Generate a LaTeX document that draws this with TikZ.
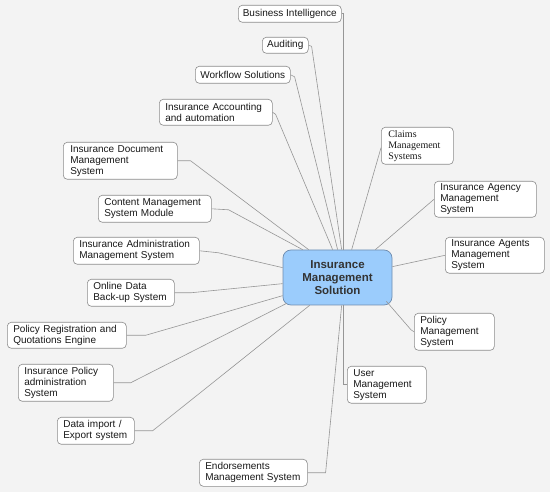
\documentclass[tikz,border=0pt]{standalone}
\usepackage{fontspec}
\setmainfont{Liberation Sans}
\newfontfamily\serifbox{Liberation Serif}
\usetikzlibrary{calc}
\definecolor{bg}{RGB}{243,243,243}
\definecolor{boxline}{RGB}{140,140,140}
\definecolor{conn}{RGB}{150,150,150}
\definecolor{hubfill}{RGB}{155,204,252}
\definecolor{hubline}{RGB}{110,140,175}
\definecolor{hubtext}{RGB}{51,51,51}
\definecolor{boxtext}{RGB}{25,25,25}
\tikzset{
  box/.style={draw=boxline, fill=white, rounded corners=4pt, line width=0.6pt,
    font=\fontsize{10}{11}\selectfont, text=boxtext, inner xsep=6pt, inner ysep=1pt,
    align=left, anchor=north west},
  onebox/.style={draw=boxline, fill=white, rounded corners=4pt, line width=0.6pt,
    font=\fontsize{10}{11}\selectfont, text=boxtext, inner xsep=2pt, inner ysep=1pt,
    align=center, anchor=north west},
  hub/.style={draw=hubline, fill=hubfill, rounded corners=8pt, line width=0.7pt,
    font=\fontsize{11.5}{13}\selectfont\bfseries, text=hubtext, align=center},
  link/.style={draw=conn, line width=0.6pt}
}
\begin{document}
\begin{tikzpicture}[x=1pt,y=-1pt]
\useasboundingbox[fill=bg] (0,0) rectangle (550,492);
% hub
\node[hub, minimum width=109pt, minimum height=55pt] (c) at (337.5,277.5) {Insurance\\Management\\Solution};
% boxes
\node[onebox, minimum width=103pt, minimum height=17pt] (bi) at (238,5) {Business Intelligence};
\node[onebox, minimum width=46pt, minimum height=16pt] (aud) at (262,37) {Auditing};
\node[onebox, minimum width=95pt, minimum height=17pt] (wf) at (195,66) {Workflow Solutions};
\node[box, minimum width=113pt, minimum height=26pt, text width=101pt] (acc) at (159,99) {Insurance Accounting\\and automation};
\node[box, minimum width=72pt, minimum height=37pt, text width=58pt, inner xsep=7pt, font=\serifbox\fontsize{10}{11}\selectfont] (claims) at (381,127) {Claims\\Management\\Systems};
\node[box, minimum width=114pt, minimum height=37pt, text width=100pt, inner xsep=7pt] (doc) at (63,142) {Insurance Document\\Management\\System};
\node[box, minimum width=102pt, minimum height=36pt, text width=90pt] (agency) at (434,181) {Insurance Agency\\Management\\System};
\node[box, minimum width=113pt, minimum height=27pt, text width=101pt] (cms) at (98,195) {Content Management\\System Module};
\node[box, minimum width=99pt, minimum height=36pt, text width=87pt] (agents) at (445,237) {Insurance Agents\\Management\\System};
\node[box, minimum width=126pt, minimum height=27pt, text width=114pt] (admin) at (73,237) {Insurance Administration\\Management System};
\node[box, minimum width=87pt, minimum height=27pt, text width=75pt] (backup) at (87,279) {Online Data\\Back-up System};
\node[box, minimum width=80pt, minimum height=37pt, text width=68pt] (polmgmt) at (414,313) {Policy\\Management\\System};
\node[box, minimum width=119pt, minimum height=26pt, text width=107pt] (reg) at (7,322) {Policy Registration and\\Quotations Engine};
\node[box, minimum width=95pt, minimum height=37pt, text width=83pt] (poladm) at (18,364) {Insurance Policy\\administration\\System};
\node[box, minimum width=79pt, minimum height=37pt, text width=67pt] (user) at (347,366) {User\\Management\\System};
\node[box, minimum width=77pt, minimum height=27pt, text width=65pt] (imp) at (57,417) {Data import /\\Export system};
\node[box, minimum width=108pt, minimum height=27pt, text width=96pt] (endo) at (199,459) {Endorsements\\Management System};
% connectors
\begin{scope}[on background layer/.style={}]
\end{scope}
\path[link] (bi.east) -| ($(c.north west)+(61,0)$);
\path[link] (aud.east) -- ++(3,1) -- ($(c.north west)+(59,0)$);
\path[link] (wf.east) -- ++(4,2) -- ($(c.north west)+(55,0)$);
\path[link] (acc.east) -- ++(3,2) -- ($(c.north west)+(50,0)$);
\path[link] (claims.west) ++(0,2) -- ($(c.north west)+(69,0)$);
\path[link] (doc.east) -- ++(13,0) -- ($(c.north west)+(26,0)$);
\path[link] (cms.east) -- ++(17,1) -- ($(c.north west)+(20,0)$);
\path[link] (admin.east) -- ++(19,2) -- ($(c.north west)+(0,18)$);
\path[link] (backup.east) -- ++(16,0) -- ($(c.north west)+(0,34)$);
\path[link] (reg.east) -- ++(19,0) -- ($(c.north west)+(0,46)$);
\path[link] (poladm.east) -- ++(17,0) -- ($(c.south west)+(4,-2)$);
\path[link] (imp.east) -- ++(18,0) -- ($(c.south west)+(27,0)$);
\path[link] (endo.east) -- ++(18,0) -- ($(c.south west)+(59,0)$);
\path[link] (user.west) -| ($(c.south west)+(61,0)$);
\path[link] (polmgmt.west) -- ++(-3,-2) -- ($(c.south east)+(-6,-4)$);
\path[link] (agents.west) -- ($(c.north east)+(0,17)$);
\path[link] (agency.west) -- ($(c.north east)+(-17,0)$);
\end{tikzpicture}
\end{document}
